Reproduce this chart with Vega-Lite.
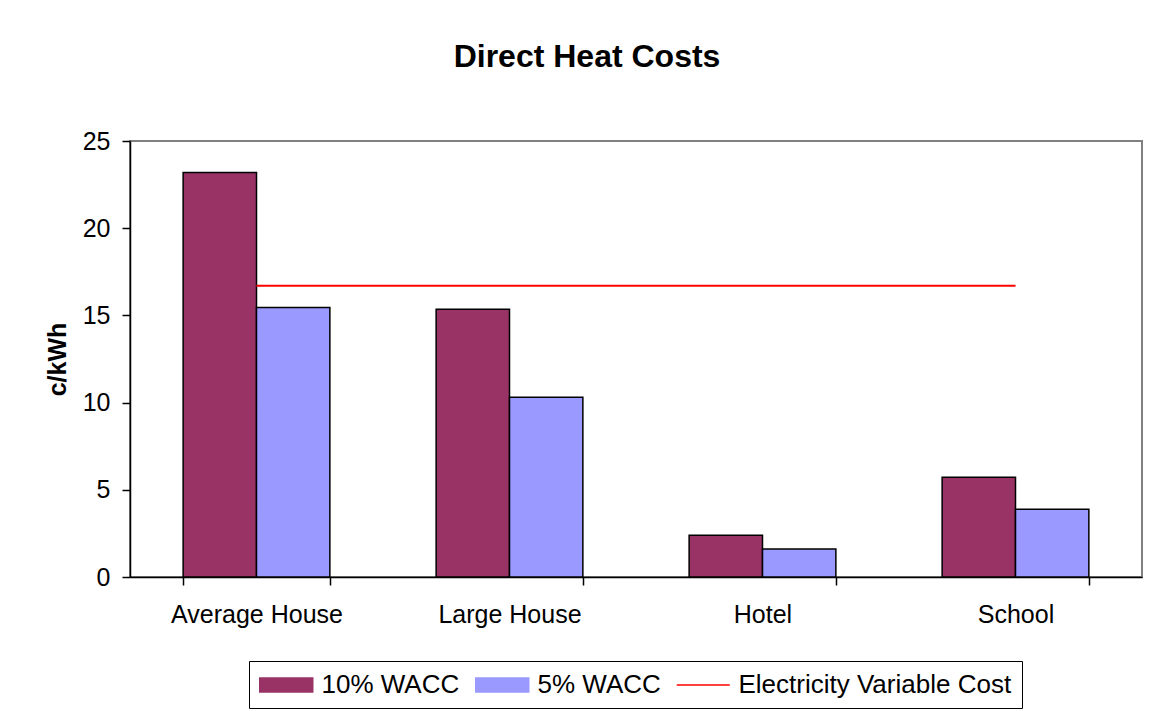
{
  "$schema": "https://vega.github.io/schema/vega-lite/v6.json",
  "width": 1012,
  "height": 436,
  "autosize": {"type": "none"},
  "padding": {"left": 130, "top": 141, "right": 10, "bottom": 134},
  "background": "white",
  "config": {
    "font": "Liberation Sans",
    "view": {"stroke": "#808080", "strokeWidth": 2},
    "axis": {"grid": false, "domainColor": "black", "domainWidth": 1.5, "tickColor": "black", "tickWidth": 1.5, "tickSize": 8, "labelColor": "black", "labelFont": "Liberation Sans", "labelFontSize": 25, "titleFont": "Liberation Sans", "titleColor": "black"},
    "legend": {
      "title": null,
      "orient": "none",
      "direction": "horizontal",
      "legendX": 119,
      "legendY": 520,
      "strokeColor": "black",
      "padding": 10,
      "labelFont": "Liberation Sans",
      "labelFontSize": 26,
      "labelColor": "black",
      "labelLimit": 500,
      "labelOffset": 34.5,
      "columnPadding": 12,
      "symbolSize": 702,
      "symbolStrokeWidth": 1.5,
      "symbolStrokeColor": "black",
      "symbolType": "M-1,-0.53H3V0.53H-1Z"
    }
  },
  "title": {
    "text": "Direct Heat Costs",
    "font": "Liberation Sans",
    "fontSize": 32,
    "fontWeight": "bold",
    "color": "black",
    "anchor": "middle",
    "frame": "group",
    "baseline": "alphabetic",
    "offset": 30,
    "dx": -49
  },
  "datasets": {
    "bars": [
      {"building": "Average House", "series": "10% WACC", "cost": 23.2},
      {"building": "Average House", "series": "5% WACC", "cost": 15.45},
      {"building": "Large House", "series": "10% WACC", "cost": 15.35},
      {"building": "Large House", "series": "5% WACC", "cost": 10.3},
      {"building": "Hotel", "series": "10% WACC", "cost": 2.4},
      {"building": "Hotel", "series": "5% WACC", "cost": 1.6},
      {"building": "School", "series": "10% WACC", "cost": 5.72},
      {"building": "School", "series": "5% WACC", "cost": 3.88}
    ],
    "elec": [
      {"building": "Average House", "cost": 16.7},
      {"building": "Large House", "cost": 16.7},
      {"building": "Hotel", "cost": 16.7},
      {"building": "School", "cost": 16.7}
    ]
  },
  "encoding": {
    "x": {
      "field": "building",
      "type": "nominal",
      "sort": ["Average House", "Large House", "Hotel", "School"],
      "scale": {"paddingInner": 0.42, "paddingOuter": 0.21},
      "axis": {"title": null, "labelAngle": 0, "tickBand": "extent", "labelPadding": 17}
    },
    "y": {
      "field": "cost",
      "type": "quantitative",
      "scale": {"domain": [0, 25], "nice": false},
      "axis": {"title": "c/kWh", "values": [0, 5, 10, 15, 20, 25], "labelPadding": 12, "titleFontSize": 25, "titleFontWeight": "bold", "titleX": -73, "titleY": 218, "titleBaseline": "middle", "titleAlign": "center", "titleAngle": -90}
    }
  },
  "layer": [
    {
      "data": {"name": "bars"},
      "mark": {"type": "bar", "stroke": "black", "strokeWidth": 1.5},
      "encoding": {
        "xOffset": {"field": "series", "type": "nominal", "sort": ["10% WACC", "5% WACC"], "scale": {"paddingInner": 0, "paddingOuter": 0}},
        "color": {
          "field": "series",
          "type": "nominal",
          "scale": {"domain": ["10% WACC", "5% WACC", "Electricity Variable Cost"], "range": ["#993366", "#9999FF", "#FF0000"]},
          "legend": {
            "symbolType": "M-1,-0.53H3V0.53H-1Z",
            "encode": {
              "symbols": {
                "shape": {"signal": "datum.value === 'Electricity Variable Cost' ? 'M-1,0H3' : 'M-1,-0.53H3V0.53H-1Z'"},
                "stroke": {"signal": "datum.value === 'Electricity Variable Cost' ? '#FF0000' : '#000000'"},
                "fill": {"signal": "datum.value === 'Electricity Variable Cost' ? 'transparent' : scale('color', datum.value)"},
                "strokeWidth": {"value": 1.5},
                "update": {
                  "shape": {"signal": "datum.value === 'Electricity Variable Cost' ? 'M-1,0H3' : 'M-1,-0.53H3V0.53H-1Z'"},
                  "stroke": {"signal": "datum.value === 'Electricity Variable Cost' ? '#FF0000' : '#000000'"},
                  "fill": {"signal": "datum.value === 'Electricity Variable Cost' ? 'transparent' : scale('color', datum.value)"},
                  "strokeWidth": {"value": 1.5}
                }
              }
            }
          }
        }
      }
    },
    {
      "data": {"name": "elec"},
      "mark": {"type": "line", "strokeWidth": 2},
      "encoding": {
        "color": {
          "datum": "Electricity Variable Cost",
          "type": "nominal",
          "legend": {
            "symbolType": "M-1,-0.53H3V0.53H-1Z",
            "encode": {
              "symbols": {
                "shape": {"signal": "datum.value === 'Electricity Variable Cost' ? 'M-1,0H3' : 'M-1,-0.53H3V0.53H-1Z'"},
                "stroke": {"signal": "datum.value === 'Electricity Variable Cost' ? '#FF0000' : '#000000'"},
                "fill": {"signal": "datum.value === 'Electricity Variable Cost' ? 'transparent' : scale('color', datum.value)"},
                "strokeWidth": {"value": 1.5},
                "update": {
                  "shape": {"signal": "datum.value === 'Electricity Variable Cost' ? 'M-1,0H3' : 'M-1,-0.53H3V0.53H-1Z'"},
                  "stroke": {"signal": "datum.value === 'Electricity Variable Cost' ? '#FF0000' : '#000000'"},
                  "fill": {"signal": "datum.value === 'Electricity Variable Cost' ? 'transparent' : scale('color', datum.value)"},
                  "strokeWidth": {"value": 1.5}
                }
              }
            }
          }
        }
      }
    }
  ]
}
